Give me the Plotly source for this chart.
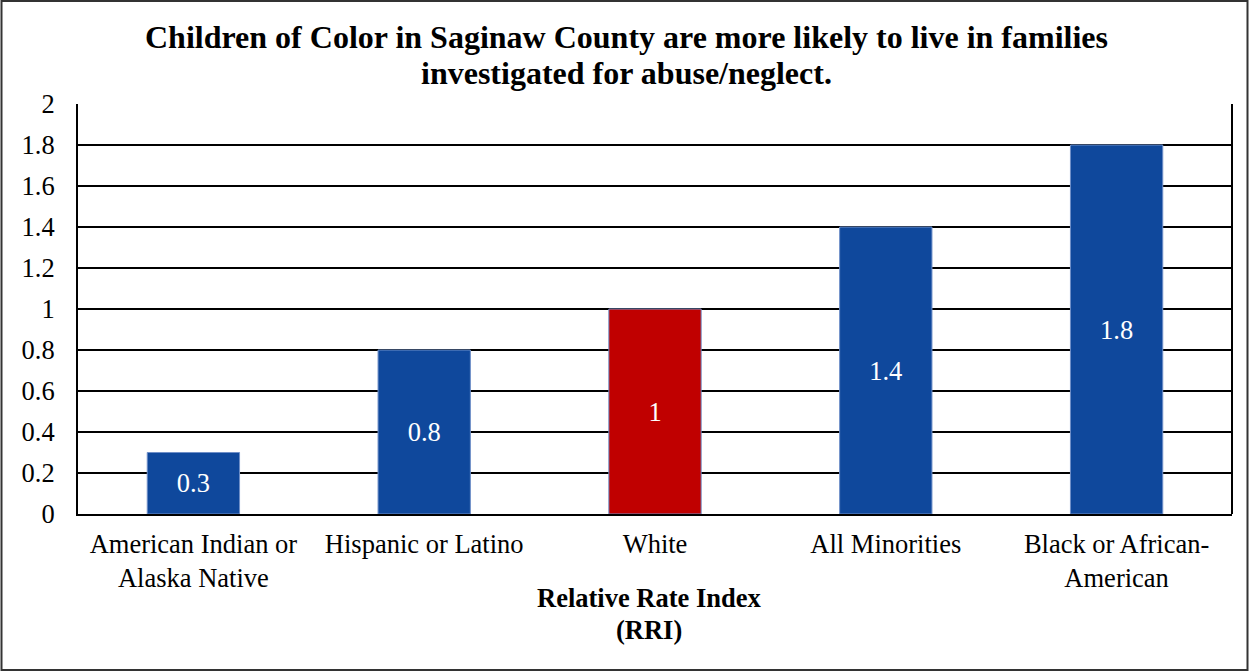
import plotly.graph_objects as go

categories = ["American Indian or<br>Alaska Native", "Hispanic or Latino", "White",
              "All Minorities", "Black or African-<br>American"]
values = [0.3, 0.8, 1.0, 1.4, 1.8]
value_labels = ["0.3", "0.8", "1", "1.4", "1.8"]
bar_colors = ["#0F489C", "#0F489C", "#C00000", "#0F489C", "#0F489C"]
y_tickvals = [0, 0.2, 0.4, 0.6, 0.8, 1.0, 1.2, 1.4, 1.6, 1.8, 2.0]
y_ticktext = ["0", "0.2", "0.4", "0.6", "0.8", "1", "1.2", "1.4", "1.6", "1.8", "2"]
title_lines = ["Children of Color in Saginaw County are more likely to live in families",
               "investigated for abuse/neglect."]
axis_title_lines = ["Relative Rate Index", "(RRI)"]

serif = "Times New Roman"

W, H = 1249, 671
ML, MR, MT, MB = 78, 17, 104, 157
plot_h = H - MT - MB
plot_w = W - ML - MR


def py(px):
    """pixel row -> paper y"""
    return (H - MB - px) / plot_h


def pxx(px):
    """pixel column -> paper x"""
    return (px - ML) / plot_w


fig = go.Figure()
fig.add_trace(go.Bar(
    x=categories, y=values, text=value_labels,
    marker=dict(color=bar_colors, line=dict(color="#6F8FC8", width=1)),
    width=0.4,
    textposition="inside", insidetextanchor="middle",
    textfont=dict(family=serif, size=26.5, color="white"),
    hoverinfo="skip",
))

annotations = []
for text, cy in zip(title_lines, [37, 73]):
    annotations.append(dict(text="<b>" + text + "</b>", x=pxx(626), y=py(cy), yanchor="middle",
                            xref="paper", yref="paper", showarrow=False,
                            font=dict(family=serif, size=32, color="black")))
for text, cy in zip(axis_title_lines, [598, 630]):
    annotations.append(dict(text="<b>" + text + "</b>", x=pxx(649), y=py(cy), yanchor="middle",
                            xref="paper", yref="paper", showarrow=False,
                            font=dict(family=serif, size=26.5, color="black")))

fig.update_layout(
    template="none",
    width=W, height=H,
    margin=dict(l=ML, r=MR, t=MT, b=MB),
    paper_bgcolor="white", plot_bgcolor="white",
    showlegend=False,
    annotations=annotations,
    shapes=[
        dict(type="rect", xref="paper", yref="paper",
             x0=-(ML - 1.5) / plot_w, x1=1 + (MR - 1.5) / plot_w,
             y0=-(MB - 1) / plot_h, y1=1 + (MT - 1) / plot_h,
             line=dict(color="#333333", width=2), layer="below"),
        dict(type="line", xref="paper", yref="paper", x0=1, x1=1, y0=0, y1=1,
             line=dict(color="black", width=2)),
    ],
)

fig.update_xaxes(
    showline=True, linecolor="black", linewidth=2,
    ticks="", showgrid=False,
    tickfont=dict(family=serif, size=26.5, color="black"),
    ticklabelstandoff=5,
)
fig.update_yaxes(
    range=[0, 2], tickvals=y_tickvals, ticktext=y_ticktext,
    showgrid=True, gridcolor="black", gridwidth=1.6,
    showline=True, linecolor="black", linewidth=2,
    ticks="", ticklabelstandoff=16,
    tickfont=dict(family=serif, size=26.5, color="black"),
    zeroline=False,
)

fig.write_html("out.html")
